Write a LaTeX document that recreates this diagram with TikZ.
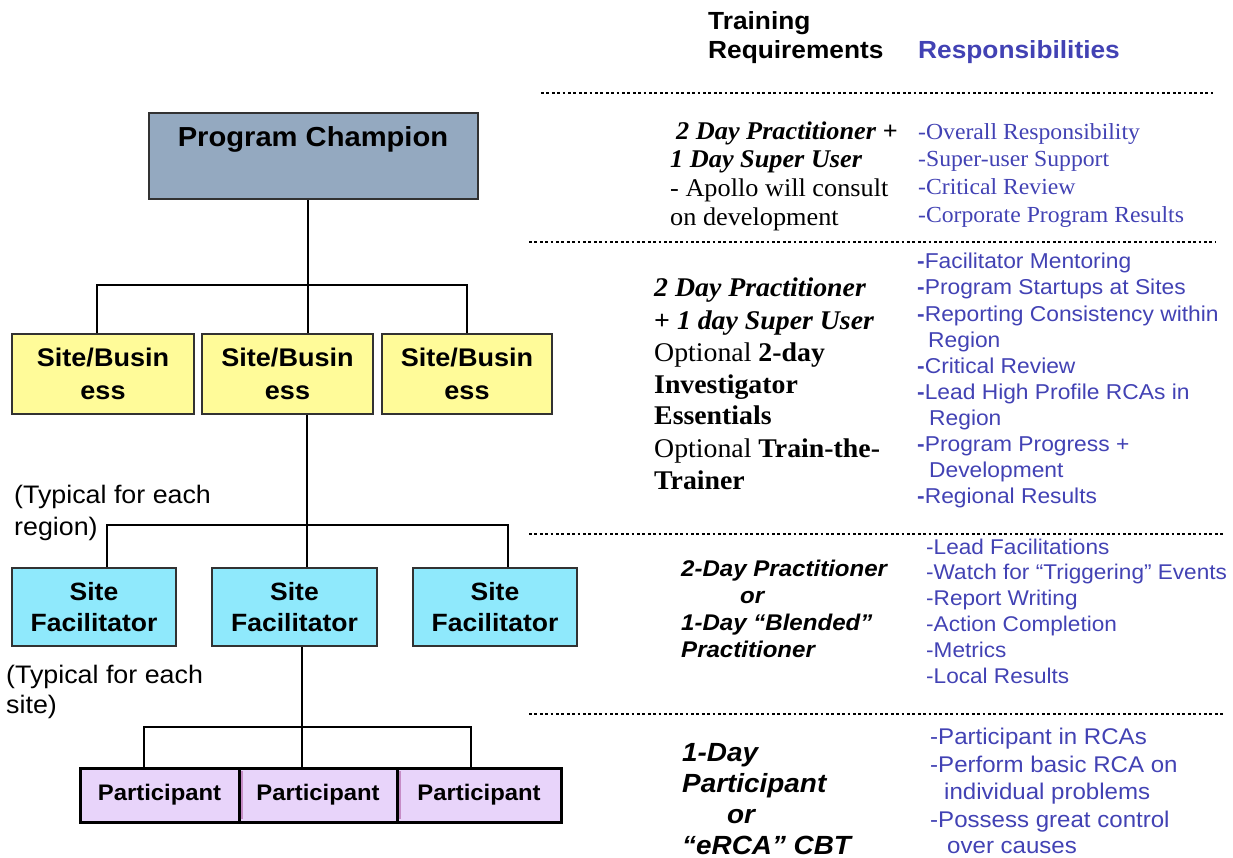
\documentclass[tikz,border=0pt]{standalone}
\usepackage{fontspec}
\newfontfamily\ar[FakeStretch=1.06]{Liberation Sans}
\newfontfamily\tm[FakeStretch=1.03]{Liberation Serif}
\newcommand\myfs[2]{\fontsize{#1}{#2}\selectfont}
\definecolor{champ}{RGB}{148,169,192}
\definecolor{sbyel}{RGB}{255,251,153}
\definecolor{sfcyan}{RGB}{143,233,252}
\definecolor{lav}{RGB}{232,212,250}
\definecolor{respblue}{RGB}{66,66,180}
\definecolor{boxline}{RGB}{50,50,50}
\begin{document}
\begin{tikzpicture}[x=1pt,y=-1pt,
  box/.style={draw=boxline,line width=1.6pt,inner sep=0,align=center},
  sbbox/.style={box,fill=sbyel,minimum height=80,font=\ar\bfseries\myfs{25.5}{33}},
  sfbox/.style={box,fill=sfcyan,minimum height=78,font=\ar\bfseries\myfs{25}{31}},
  pabox/.style={draw=black,line width=3pt,fill=lav,inner sep=0,minimum height=54,font=\ar\bfseries\myfs{22.5}{26}},
  conn/.style={line width=1.6pt,black},
  connb/.style={line width=2.2pt,black},
  dots/.style={line width=2.8pt,dash pattern=on 2.8pt off 2.6pt},
  txt/.style={inner sep=0,anchor=base west},
  tmA/.style={txt,font=\tm\myfs{25.5}{29}},
  tmR/.style={txt,font=\tm\myfs{23}{27},text=respblue},
  tmB/.style={txt,font=\tm\myfs{27}{32}},
  arR/.style={txt,font=\ar\myfs{21.5}{26},text=respblue},
  arR3/.style={txt,font=\ar\myfs{21.3}{26},text=respblue},
  arR4/.style={txt,font=\ar\myfs{22.7}{27},text=respblue},
  arBI/.style={txt,font=\ar\bfseries\itshape\myfs{22.7}{27}},
  arBIL/.style={txt,font=\ar\bfseries\itshape\myfs{26.3}{30}},
  hdr/.style={txt,font=\ar\bfseries\myfs{24.8}{29}},
  lbl/.style={txt,font=\ar\myfs{25.3}{30}}]
\useasboundingbox (0,0) rectangle (1233,858);

% ---------- tree ----------
\node[box,fill=champ,minimum width=329,minimum height=86] (pc) at (313.5,156) {};
\node[inner sep=0,font=\ar\bfseries\myfs{27.5}{32}] (pct) at (313,139) {Program Champion};

\node[sbbox,minimum width=182] (sb1) at (103,374) {Site/Busin\\ess};
\node[sbbox,minimum width=171] (sb2) at (287.5,374) {Site/Busin\\ess};
\node[sbbox,minimum width=170] (sb3) at (467,374) {Site/Busin\\ess};

\node[sfbox,minimum width=164] (sf1) at (94,607) {Site\\Facilitator};
\node[sfbox,minimum width=165] (sf2) at (294.5,607) {Site\\Facilitator};
\node[sfbox,minimum width=164] (sf3) at (495,607) {Site\\Facilitator};

\node[pabox,minimum width=159] (pa1) at (159.5,795) {Participant};
\node[pabox,minimum width=158] (pa2) at (318,795) {Participant};
\node[pabox,minimum width=164] (pa3) at (479,795) {Participant};
\draw[line width=2pt,violet!45] (241.5,771) -- (241.5,819);
\draw[line width=2pt,violet!45] (399.5,771) -- (399.5,819);

\coordinate (j1) at (308,285);
\coordinate (d1) at (97,285);
\coordinate (d3) at (467,285);
\draw[conn] (pc.south -| j1) -- (sb2.north -| j1);
\draw[conn] (sb1.north -| d1) -- (d1) -- (d3) -- (sb3.north -| d3);

\coordinate (j2) at (307,525);
\coordinate (e1) at (107,525);
\coordinate (e3) at (508,525);
\draw[conn] (sb2.south -| j2) -- (sf2.north -| j2);
\draw[conn] (sf1.north -| e1) -- (e1) -- (e3) -- (sf3.north -| e3);

\coordinate (j3) at (302,727);
\coordinate (f1) at (144,727);
\coordinate (f3) at (471,727);
\draw[connb] (sf2.south -| j3) -- (pa2.north -| j3);
\draw[connb] (pa1.north -| f1) -- (f1) -- (f3) -- (pa3.north -| f3);

\node[lbl] (lr1) at (14,503) {(Typical for each};
\node[lbl] (lr2) at (14,535) {region)};
\node[lbl] (ls1) at (6,683) {(Typical for each};
\node[lbl] (ls2) at (6,713) {site)};

% ---------- dotted separators ----------
\coordinate (s1a) at (541,93);   \coordinate (s1b) at (1214,93);
\coordinate (s2a) at (529,242);  \coordinate (s2b) at (1215,242);
\coordinate (s3a) at (529,534);  \coordinate (s3b) at (1225,534);
\coordinate (s4a) at (529,714);  \coordinate (s4b) at (1223,714);
\draw[dots] (s1a) -- (s1b);
\draw[dots] (s2a) -- (s2b);
\draw[dots] (s3a) -- (s3b);
\draw[dots] (s4a) -- (s4b);

% ---------- headers ----------
\node[hdr] (h1) at (708,30) {Training};
\node[hdr] (h2) at (708,59) {Requirements};
\node[hdr,text=respblue] (h3) at (918,59) {Responsibilities};

% ---------- section 1 ----------
\node[tmA] (t1a) at (676,140) {\bfseries\itshape 2 Day Practitioner +};
\node[tmA] (t1b) at (670,168) {\bfseries\itshape 1 Day Super User};
\node[tmA] (t1c) at (670,197) {- Apollo will consult};
\node[tmA] (t1d) at (670,226) {on development};

\node[tmR] (r1a) at (918,140) {-Overall Responsibility};
\node[tmR] (r1b) at (918,167) {-Super-user Support};
\node[tmR] (r1c) at (918,195) {-Critical Review};
\node[tmR] (r1d) at (918,223) {-Corporate Program Results};

% ---------- section 2 ----------
\node[tmB] (t2a) at (654,297) {\bfseries\itshape 2 Day Practitioner};
\node[tmB] (t2b) at (654,329) {\bfseries + \itshape 1 day Super User};
\node[tmB] (t2c) at (654,361) {Optional \textbf{2-day}};
\node[tmB] (t2d) at (654,393) {\bfseries Investigator};
\node[tmB] (t2e) at (654,424) {\bfseries Essentials};
\node[tmB] (t2f) at (654,457) {Optional \textbf{Train-the-}};
\node[tmB] (t2g) at (654,489) {\bfseries Trainer};

\node[arR] (r2a) at (917,269) {\textbf{-}Facilitator Mentoring};
\node[arR] (r2b) at (917,295) {\textbf{-}Program Startups at Sites};
\node[arR] (r2c) at (917,321) {\textbf{-}Reporting Consistency within};
\node[arR] (r2d) at (928,347) {Region};
\node[arR] (r2e) at (917,373) {\textbf{-}Critical Review};
\node[arR] (r2f) at (917,399) {\textbf{-}Lead High Profile RCAs in};
\node[arR] (r2g) at (929,425) {Region};
\node[arR] (r2h) at (917,451) {\textbf{-}Program Progress +};
\node[arR] (r2i) at (929,477) {Development};
\node[arR] (r2j) at (917,503) {\textbf{-}Regional Results};

% ---------- section 3 ----------
\node[arBI] (t3a) at (681,576) {2-Day Practitioner};
\node[arBI] (t3b) at (740,603) {or};
\node[arBI] (t3c) at (681,630) {1-Day “Blended”};
\node[arBI] (t3d) at (681,657) {Practitioner};

\node[arR3] (r3a) at (926,554) {-Lead Facilitations};
\node[arR3] (r3b) at (926,579) {-Watch for “Triggering” Events};
\node[arR3] (r3c) at (926,605) {-Report Writing};
\node[arR3] (r3d) at (926,631) {-Action Completion};
\node[arR3] (r3e) at (926,657) {-Metrics};
\node[arR3] (r3f) at (926,683) {-Local Results};

% ---------- section 4 ----------
\node[arBIL] (t4a) at (682,761) {1-Day};
\node[arBIL] (t4b) at (682,792) {Participant};
\node[arBIL] (t4c) at (727,823) {or};
\node[arBIL] (t4d) at (682,854) {“eRCA” CBT};

\node[arR4] (r4a) at (930,744) {-Participant in RCAs};
\node[arR4] (r4b) at (930,772) {-Perform basic RCA on};
\node[arR4] (r4c) at (944,799) {individual problems};
\node[arR4] (r4d) at (930,827) {-Possess great control};
\node[arR4] (r4e) at (947,853) {over causes};
\end{tikzpicture}
\end{document}
